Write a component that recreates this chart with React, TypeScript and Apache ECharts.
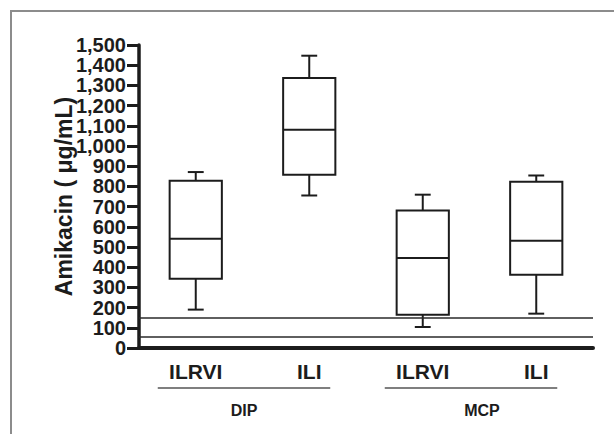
import React, { useEffect, useRef } from "react";
import * as echarts from "echarts";

const categories = ["ILRVI", "ILI", "ILRVI", "ILI"];
const groups = ["DIP", "MCP"];
const whiskerLow = [190, 755, 104, 170];
const q1 = [343, 858, 165, 363];
const median = [541, 1081, 445, 531];
const q3 = [828, 1337, 681, 823];
const whiskerHigh = [871, 1447, 759, 854];
const refLines = [148, 57];
const yMin = 0;
const yMax = 1500;
const yStep = 100;
const yName = "Amikacin ( \u03bcg/mL)";

const FONT = "'Liberation Sans', Arial, Helvetica, sans-serif";
const INK = "#1c1c1c";

export default function App() {
  const ref = useRef<HTMLDivElement>(null);
  useEffect(() => {
    if (!ref.current) return;
    const chart = echarts.init(ref.current, null, { renderer: "svg" });
    const data = categories.map((_, i) => [i, whiskerLow[i], q1[i], median[i], q3[i], whiskerHigh[i]]);
    const lineStyle = { stroke: INK, lineWidth: 2, fill: null };
    chart.setOption({
      animation: false,
      backgroundColor: "#ffffff",
      grid: { left: 139, right: 21, top: 45, bottom: 86 },
      xAxis: {
        type: "category",
        data: categories,
        boundaryGap: true,
        axisLine: { lineStyle: { color: INK, width: 4 } },
        axisTick: { alignWithLabel: true, length: 9, lineStyle: { color: INK, width: 3 } },
        axisLabel: { color: INK, fontSize: 21, fontWeight: "bold", fontFamily: FONT, margin: 13, interval: 0 },
        splitLine: { show: false },
      },
      yAxis: {
        type: "value",
        min: yMin,
        max: yMax,
        interval: yStep,
        name: yName,
        nameLocation: "middle",
        nameRotate: 90,
        nameGap: 64,
        nameMoveOverlap: false,
        nameTextStyle: { color: INK, fontSize: 23, fontWeight: "bold", fontFamily: FONT },
        axisLine: { show: true, lineStyle: { color: INK, width: 3.5 } },
        axisTick: { show: true, length: 12, lineStyle: { color: INK, width: 3 } },
        axisLabel: {
          color: INK,
          fontSize: 20,
          lineHeight: 19,
          fontWeight: "bold",
          fontFamily: FONT,
          margin: 13,
          showMinLabel: true,
          showMaxLabel: true,
          hideOverlap: false,
          formatter: (v: number) => v.toLocaleString("en-US"),
        },
        splitLine: { show: false },
      },
      series: [
        {
          type: "custom",
          data,
          encode: { x: 0, y: [1, 2, 3, 4, 5] },
          renderItem: (params: any, api: any) => {
            const x = api.value(0);
            const p = (v: number) => api.coord([x, v]);
            const [cx, yLow] = p(api.value(1));
            const yQ1 = p(api.value(2))[1];
            const yMed = p(api.value(3))[1];
            const yQ3 = p(api.value(4))[1];
            const yHigh = p(api.value(5))[1];
            const band = api.size([1, 0])[0];
            const bw = band * 0.46;
            const cw = band * 0.14;
            return {
              type: "group",
              children: [
                { type: "line", shape: { x1: cx, y1: yLow, x2: cx, y2: yQ1 }, style: lineStyle },
                { type: "line", shape: { x1: cx, y1: yQ3, x2: cx, y2: yHigh }, style: lineStyle },
                { type: "line", shape: { x1: cx - cw / 2, y1: yLow, x2: cx + cw / 2, y2: yLow }, style: lineStyle },
                { type: "line", shape: { x1: cx - cw / 2, y1: yHigh, x2: cx + cw / 2, y2: yHigh }, style: lineStyle },
                { type: "rect", shape: { x: cx - bw / 2, y: yQ3, width: bw, height: yQ1 - yQ3 }, style: { stroke: INK, lineWidth: 2, fill: "#ffffff" } },
                { type: "line", shape: { x1: cx - bw / 2, y1: yMed, x2: cx + bw / 2, y2: yMed }, style: lineStyle },
              ],
            };
          },
          markLine: {
            silent: true,
            symbol: ["none", "none"],
            label: { show: false },
            lineStyle: { color: "#2a2a2a", width: 1.6, type: "solid" },
            data: refLines.map((v) => ({ yAxis: v })),
          },
          z: 3,
        },
      ],
    });

    const c = categories.map((_, i) => chart.convertToPixel({ xAxisIndex: 0 }, i) as number);
    const lineY = 388;
    const labelY = 410;
    const labelOffsets = [0, 11];
    const graphics: any[] = [
      {
        type: "rect",
        shape: { x: 11, y: 11, width: 700, height: 600 },
        style: { stroke: "#8c8c8c", lineWidth: 2, fill: null },
        silent: true,
        z: 0,
      },
    ];
    groups.forEach((g, gi) => {
      const a = c[gi * 2] - 38;
      const b = c[gi * 2 + 1] + 21;
      graphics.push({
        type: "line",
        shape: { x1: a, y1: lineY, x2: b, y2: lineY },
        style: { stroke: "#555555", lineWidth: 1.5 },
        silent: true,
      });
      graphics.push({
        type: "text",
        x: (a + b) / 2 + labelOffsets[gi],
        y: labelY,
        style: { text: g, fill: INK, font: `bold 16px ${FONT}`, align: "center", verticalAlign: "middle" },
        silent: true,
      });
    });
    chart.setOption({ graphic: graphics });

    return () => chart.dispose();
  }, []);
  return <div ref={ref} style={{ position: "fixed", left: 0, top: 0, width: 614, height: 434 }} />;
}
